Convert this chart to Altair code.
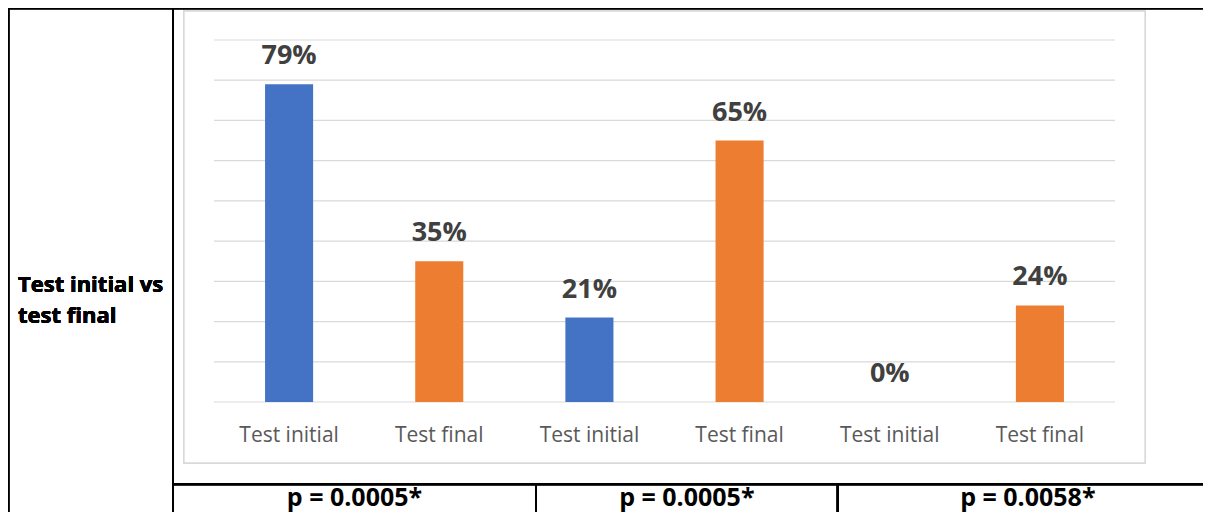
import altair as alt
import pandas as pd

# ---- data ----
categories = ["Test initial", "Test final", "Test initial", "Test final", "Test initial", "Test final"]
values = [79, 35, 21, 65, 0, 24]
value_labels = ["79%", "35%", "21%", "65%", "0%", "24%"]
grid_values = [0, 10, 20, 30, 40, 50, 60, 70, 80, 90]
p_values = ["p = 0.0005*", "p = 0.0005*", "p = 0.0058*"]
row_label = ["Test initial vs", "test final"]

# ---- layout constants (chart pixel coords; screen = chart + 8) ----
W, H = 1195, 504
FONT = "Open Sans"
cell_edges = [165, 528, 829.7, 1210]

bars_df = pd.DataFrame({
    "pos": list(range(len(categories))),
    "category": categories,
    "value": values,
    "label": value_labels,
})
grid_df = pd.DataFrame({"v": grid_values})
p_df = pd.DataFrame({
    "p": p_values,
    "cx": [(cell_edges[i] + cell_edges[i + 1]) / 2 for i in range(len(p_values))],
})

x_scale = alt.Scale(range=[206, 1107], paddingInner=0.68, paddingOuter=0.34)
y_scale = alt.Scale(domain=[0, 90], range=[394, 32], nice=False, zero=True)
X = alt.X("pos:O", axis=None, scale=x_scale)

# chart box
box = alt.Chart(bars_df).mark_rect(fill="white", stroke="#D9D9D9", strokeWidth=1.3).encode(
    x=alt.value(176), x2=alt.value(1137), y=alt.value(3), y2=alt.value(455)
)

grid = alt.Chart(grid_df).mark_rule(color="#D9D9D9", strokeWidth=1.2).encode(
    y=alt.Y("v:Q", scale=y_scale, axis=None),
    x=alt.value(206), x2=alt.value(1107),
)

bars = alt.Chart(bars_df).mark_bar().encode(
    x=X,
    y=alt.Y("value:Q", scale=y_scale, axis=None),
    color=alt.Color("category:N",
                    scale=alt.Scale(domain=["Test initial", "Test final"],
                                    range=["#4472C4", "#ED7D31"]),
                    legend=None),
)

bar_labels = alt.Chart(bars_df).mark_text(
    font=FONT, fontSize=27, fontWeight="bold", color="#404040",
    baseline="alphabetic", dy=-20,
).encode(
    x=X,
    y=alt.Y("value:Q", scale=y_scale, axis=None),
    text="label:N",
)

cat_labels = alt.Chart(bars_df).mark_text(
    font=FONT, fontSize=21, color="#595959", baseline="alphabetic",
).encode(
    x=X,
    y=alt.value(434),
    text="category:N",
)

def rule(x1, x2, y1, y2):
    return alt.Chart(bars_df).mark_rule(color="black", strokeWidth=2).encode(
        x=alt.value(x1), x2=alt.value(x2), y=alt.value(y1), y2=alt.value(y2)
    )

lines = [
    rule(0, W, 0.3, 0.3),          # top border
    rule(0.3, 0.3, 0, H),          # left border
    rule(165, 165, 0, H),          # divider
    rule(165, W, 476.3, 476.3),    # p-row top
    rule(528, 528, 476.3, H),
    rule(829.7, 829.7, 476.3, H),
]

row_text = alt.Chart(bars_df).mark_text(
    font=FONT, fontSize=22, fontWeight="bold", color="black",
    align="left", baseline="alphabetic", lineHeight=31.6,
).encode(
    x=alt.value(10), y=alt.value(283.7), text=alt.value(row_label),
)

p_text = alt.Chart(p_df).mark_text(
    font=FONT, fontSize=25, fontWeight="bold", color="black",
    align="center", baseline="alphabetic",
).encode(
    x=alt.X("cx:Q", scale=None, axis=None),
    y=alt.value(497.5),
    text="p:N",
)

chart = alt.layer(box, grid, bars, bar_labels, cat_labels, *lines, row_text, p_text).properties(
    width=W, height=H,
    autosize=alt.AutoSizeParams(type="none"),
    padding=0,
).configure_view(stroke=None)

chart.save("out.html", embed_options={"renderer": "svg", "actions": False})
